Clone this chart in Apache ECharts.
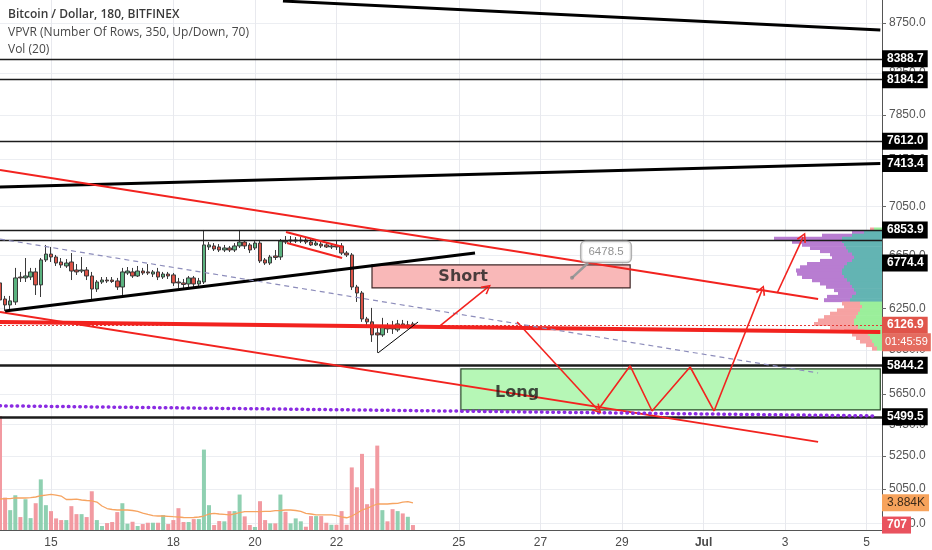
<!DOCTYPE html>
<html><head><meta charset="utf-8">
<script src="https://cdn.jsdelivr.net/npm/echarts@6/dist/echarts.min.js"></script>
<style>html,body{margin:0;padding:0;background:#fff}#c{width:932px;height:550px}</style>
</head><body><div id="c"></div>
<script>
// ---------------- DATA ----------------
const startTime = '2018-06-13 18:00';   // first 3h slot
const slotCount = 174;                  // slots shown on the time scale (incl. future)
const tickDates  = ['2018-06-15 00:00','2018-06-18 00:00','2018-06-20 00:00','2018-06-22 00:00','2018-06-25 00:00','2018-06-27 00:00','2018-06-29 00:00','2018-07-01 00:00','2018-07-03 00:00','2018-07-05 00:00'];
const tickLabels = ['15','18','20','22','25','27','29','Jul','3','5'];
const yTicks = [4850,5050,5250,5450,5650,5950,6250,6650,7050,7450,7850,8250,8750];

const opens = [6440,6319,6275,6297,6485,6478,6485,6524,6425,6617, 6663,6640,6601,6570,6601,6539,6531,6539,6493,6394,
  6447,6462,6462,6455,6409,6516,6524,6493,6531,6524, 6508,6524,6485,6508,6501,6447,6440,6432,6478,6432,
  6447,6719,6727,6719,6695,6711,6695,6727,6758,6735, 6711,6750,6617,6593,6648,6640,6766,6766,6766,6766,
  6774,6758,6735,6742,6735,6719,6727,6727,6671,6656, 6409,6364,6172,6151,6071,6057,6122,6122,6093,6136, 6114,6136];
const closes = [6312,6275,6305,6478,6478,6493,6524,6425,6617,6663, 6640,6593,6578,6593,6531,6524,6539,6493,6394,6447,
  6462,6455,6451,6409,6524,6531,6493,6531,6516,6516, 6524,6485,6508,6493,6440,6440,6428,6478,6432,6455,
  6735,6735,6703,6695,6711,6695,6727,6758,6727,6695, 6750,6609,6593,6640,6636,6766,6758,6774,6774,6774,
  6758,6735,6750,6727,6719,6727,6719,6671,6656,6409, 6364,6172,6151,6057,6057,6122,6100,6100,6136,6122, 6129,6126.9];
const lows = [6275,6231,6245,6275,6447,6447,6462,6349,6334,6601, 6601,6570,6555,6555,6462,6501,6516,6462,6319,6372,
  6432,6440,6440,6387,6349,6501,6478,6485,6501,6501, 6485,6462,6470,6470,6417,6402,6402,6402,6402,6402,
  6432,6695,6687,6679,6679,6679,6679,6711,6703,6671, 6695,6593,6578,6578,6617,6617,6742,6750,6750,6750,
  6742,6727,6727,6711,6711,6703,6695,6656,6640,6387, 6297,6151,6122,6007,5930,6043,6071,6064,6079,6107, 6100,6114];
const highs = [6462,6342,6342,6555,6524,6632,6555,6555,6632,6735, 6719,6656,6632,6624,6671,6585,6640,6562,6524,6462,
  6485,6485,6485,6478,6555,6562,6555,6570,6555,6585, 6539,6555,6524,6524,6516,6478,6470,6493,6493,6478,
  6855,6758,6750,6742,6735,6727,6750,6855,6774,6750, 6766,6766,6632,6656,6695,6782,6806,6806,6798,6798,
  6790,6782,6774,6758,6758,6750,6766,6750,6687,6671, 6425,6379,6187,6253,6107,6180,6143,6158,6165,6165, 6158,6151];
const volumes = [16300,4630,2840,4970,1850,4400,1700,3830,7240,3550, 2700,1660,1420,1420,3410,2270,2270,1850,5540,1420,
  570,990,1140,2560,3830,900,1180,570,850,1040, 1040,1040,2130,850,1420,3120,1140,1140,1560,1560,
  11500,3550,710,1280,1240,2700,2700,5070,1950,710, 430,4120,1420,950,950,5070,2600,950,1660,1240,
  470,1990,1990,1990,1040,750,750,2700,750,8950, 6110,10890,3690,5960,12070,2840,1240,2980,2700,2370, 1890,707];
const volumeMA20 = [4430,4500,4500,4580,4580,4580,4620,4720,4900,5000, 5100,5000,4860,4360,4360,4430,4290,4220,4180,4000,
  3430,3070,2930,2860,2860,2860,2790,2650,2430,2220, 2070,2000,2000,1960,1900,1860,1790,1760,1790,1860,
  2000,2290,2390,2290,2220,2150,2290,2500,2620,2620, 2620,2620,2670,2650,2760,2790,2860,2860,2790,2650,
  2390,2290,2150,2150,2150,2150,2070,1860,1750,2000, 2390,2860,3100,3430,3720,3720,3720,3790,3820,4000, 4050,3884];
const countdown = '01:45:59';

// horizontal levels drawn on the chart
const levels = [8388.7, 8184.2, 7612.0, 6853.9, 6774.4, 5844.2, 5499.5];
const labelOnlyLevels = [7413.4];

// VPVR rows (row low price, 25 USD rows), up / down volume (relative)
const vpRowLow = [6850,6825,6800,6775,6750,6725,6700,6675,6650,6625,6600,6575,6550,6525,6500,6475,6450,6425,6400,6375,6350,6325,6300,6275,6250,6225,6200,6175,6150,6125,6100,6075,6050,6025,6000,5975,5950];
const vpRowSize = 25;
const vpUp   = [8,18,30,40,40,38,36,34,30,28,30,35,38,40,40,38,35,32,30,28,26,30,32,22,20,22,24,26,28,28,24,18,14,12,10,8,5];
const vpDown = [4,12,30,68,50,42,36,28,22,22,32,40,44,46,45,42,35,30,26,20,18,25,26,18,18,23,28,32,36,40,28,20,16,14,12,8,5];
const valueArea = [6300, 6850];

// drawings [time, price]
const topResistance  = [['2018-06-20 16:30', 8980], ['2018-07-05 08:00', 8678]];
const longResistance = [['2018-06-13 18:00', 7212], ['2018-07-05 08:00', 7413.4]];
const channelUpper   = [['2018-06-13 18:00', 7357], ['2018-07-03 19:24', 6319]];
const channelLower   = [['2018-06-13 18:00', 6223], ['2018-07-03 19:24', 5339]];
const supportRed     = [['2018-06-13 18:00', 6150], ['2018-07-05 08:00', 6078]];
const wedgeSupport   = [['2018-06-13 21:00', 6231], ['2018-06-25 09:30', 6671]];
const dashedTrend    = [['2018-06-13 18:00', 6782], ['2018-07-03 19:24', 5791]];
const flagUpper      = [['2018-06-20 18:18', 6839], ['2018-06-22 03:54', 6719]];
const flagLower      = [['2018-06-20 18:54', 6750], ['2018-06-22 03:18', 6632]];
const triangleLine   = [['2018-06-23 00:30', 5930], ['2018-06-24 00:00', 6150]];
const dottedSupport  = [['2018-06-13 18:00', 5571], ['2018-07-05 05:00', 5505]];
const arrowShortUp   = [['2018-06-24 12:54', 6122], ['2018-06-25 16:36', 6402]];
const arrowDown      = [['2018-06-26 10:18', 6150], ['2018-06-28 09:54', 5544]];
const zigzag         = [['2018-06-28 09:54', 5544], ['2018-06-29 04:48', 5840], ['2018-06-29 17:42', 5537], ['2018-06-30 16:06', 5832], ['2018-07-01 06:12', 5537]];
const arrowBreakout  = [['2018-07-01 06:12', 5537], ['2018-07-02 10:24', 6387]];
const arrowTarget    = [['2018-07-02 19:18', 6364], ['2018-07-03 10:36', 6798]];
const boxNames  = ['Short', 'Long'];
const boxStart  = ['2018-06-22 20:54', '2018-06-25 01:12'];
const boxEnd    = ['2018-06-29 04:48', '2018-07-05 08:00'];
const boxTop    = [6578, 5819];
const boxBottom = [6402, 5544];
const boxTextAt = [['2018-06-25 02:30', 6485], ['2018-06-26 10:18', 5657]];
const calloutPoint  = ['2018-06-27 18:36', 6478.5];
const calloutCorner = ['2018-06-28 04:00', 6593];

// ---------------- BUILD ----------------
const FONT = '"Liberation Sans", Arial, sans-serif';
const RED = '#f2231f';
const HIDDEN_LINE = {color:'rgba(0,0,0,0)', width:1, type:'solid'};
function T(s){ const m = s.match(/(\d+)-(\d+)-(\d+) (\d+):(\d+)/); return Date.UTC(+m[1], m[2]-1, +m[3], +m[4], +m[5]); }
function fmt(ms){ const d = new Date(ms); const p = n => String(n).padStart(2,'0');
  return d.getUTCFullYear()+'-'+p(d.getUTCMonth()+1)+'-'+p(d.getUTCDate())+' '+p(d.getUTCHours())+':'+p(d.getUTCMinutes()); }
const slotMs = 3*3600*1000;
const t0 = T(startTime), tMax = t0 + (slotCount-1)*slotMs;
const categories = [];
for (let i = 0; i < slotCount; i++) categories.push(fmt(t0 + i*slotMs));
const tickMap = {}; tickDates.forEach((d,i) => tickMap[d] = tickLabels[i]);
const showTick = (i, v) => tickMap[v] !== undefined;

const candleData = opens.map((o,i) => [o, closes[i], lows[i], highs[i]]);
const volData = volumes.map((v,i) => ({value: v, itemStyle: {color: closes[i] >= opens[i] ? '#8fd0b1' : '#f29aa1'}}));
const pts = arr => arr.map(([t,p]) => [T(t), p]);
const lastPrice = closes[closes.length-1];
const lastMA = volumeMA20[volumeMA20.length-1];
const lastVol = volumes[volumes.length-1];

function lineSeries(data, style){
  return {type:'line', xAxisIndex:1, yAxisIndex:0, data: pts(data), symbol:'none', silent:true, z:6,
    lineStyle: Object.assign({color: RED, width: 2}, style), animation:false};
}
const chevron = 'path://M5,0 L10,9 L8.6,10 L5,3 L1.4,10 L0,9 Z';

const markLineData = levels.map(v => ({
  yAxis: v,
  lineStyle: {color: '#1c1c1c', width: (v === 5844.2 || v === 5499.5) ? 2.5 : 1.3, type:'solid'},
  label: v === 6774.4 ? {offset:[0,23]} : {}
}));
labelOnlyLevels.forEach(v => markLineData.push({yAxis: v, lineStyle: HIDDEN_LINE}));
markLineData.push({yAxis: lastPrice, lineStyle:{color:'#e53935', width:1, type:[2,2]}, label:{backgroundColor:'#e0544a'}});
markLineData.push({yAxis: lastPrice, lineStyle: HIDDEN_LINE,
  label:{formatter: countdown, backgroundColor:'#e46c60', offset:[0,17], fontSize:11, fontWeight:'normal', padding:[3,3,2,3]}});

const option = {
  animation: false,
  backgroundColor: '#ffffff',
  grid: {left: 0, right: 50, top: 0, bottom: 20},
  xAxis: [
    {type:'category', data: categories, boundaryGap:false,
      axisLine:{lineStyle:{color:'#555', width:1}}, axisTick:{show:false},
      axisLabel:{interval: showTick, formatter: v => tickMap[v] === 'Jul' ? '{b|Jul}' : (tickMap[v] || ''),
        color:'#4a4a4a', fontSize:12, margin:7, fontFamily: FONT, rich:{b:{fontWeight:'bold', fontSize:12, color:'#4a4a4a', fontFamily: FONT}}},
      splitLine:{show:true, interval: showTick, lineStyle:{color:'#e8e9ee', width:1}}},
    {type:'time', min: t0, max: tMax, show:false},
    {type:'value', min:0, max:882, inverse:true, show:false}
  ],
  yAxis: [
    {type:'log', logBase:10, min:4812, max:8991, position:'right',
      axisLine:{show:true, lineStyle:{color:'#555'}},
      axisTick:{show:true, length:4, customValues: yTicks, lineStyle:{color:'#666'}},
      axisLabel:{customValues: yTicks, formatter: v => Number(v).toFixed(1), color:'#555', fontSize:12, margin:7, fontFamily: FONT},
      splitLine:{show:true, lineStyle:{color:'#eceef2'}}},
    {type:'value', min:0, max:75800, show:false}
  ],
  graphic: [
    {type:'text', left:8, top:9, z:100, style:{text:'Bitcoin / Dollar, 180, BITFINEX', font:'600 12px "Open Sans", sans-serif', fill:'#3a3a3a'}},
    {type:'text', left:8, top:27, z:100, style:{text:'VPVR (Number Of Rows, 350, Up/Down, 70)', font:'12px "Open Sans", sans-serif', fill:'#484848'}},
    {type:'text', left:8, top:44, z:100, style:{text:'Vol (20)', font:'12px "Open Sans", sans-serif', fill:'#484848'}}
  ],
  series: [
    // Volume profile (VPVR)
    {type:'custom', xAxisIndex:2, yAxisIndex:0, silent:true, z:1,
      data: vpRowLow.map((lo,i) => [lo, lo + vpRowSize, vpUp[i], vpDown[i]]),
      encode:{x:2, y:[0,1]},
      renderItem: (params, api) => {
        const lo = api.value(0), hi = api.value(1), up = api.value(2), dn = api.value(3);
        const a = api.coord([0, hi]), b = api.coord([up, lo]), c = api.coord([up + dn, lo]);
        const inVA = lo >= valueArea[0] && hi <= valueArea[1];
        const h = b[1] - a[1] + 0.6;
        return {type:'group', children:[
          {type:'rect', shape:{x:b[0], y:a[1], width:a[0]-b[0], height:h}, style:{fill: inVA ? '#63b4b3' : '#9bef9b'}},
          {type:'rect', shape:{x:c[0], y:a[1], width:b[0]-c[0], height:h}, style:{fill: inVA ? '#b87dd1' : '#f6a2a2'}}
        ]};
      }},
    // volume
    {type:'bar', xAxisIndex:0, yAxisIndex:1, data: volData, barWidth:4, z:2, silent:true,
      markLine:{symbol:['none','none'], silent:true, animation:false,
        label:{position:'end', distance:0, padding:[2,4,2,5], fontSize:12, fontFamily: FONT, lineHeight:13},
        data:[
          {yAxis: lastMA, lineStyle: HIDDEN_LINE, label:{formatter: (lastMA/1000).toFixed(3)+'K', backgroundColor:'#f7a35c', color:'#3b2a1a'}},
          {yAxis: lastVol, lineStyle: HIDDEN_LINE, label:{formatter: String(lastVol), backgroundColor:'#e9525e', color:'#fff', fontWeight:'bold'}}
        ]}},
    {type:'line', xAxisIndex:0, yAxisIndex:1, data: volumeMA20, symbol:'none', z:3, silent:true,
      lineStyle:{color:'#f6a461', width:1.3}},
    // boxes
    {type:'custom', xAxisIndex:1, yAxisIndex:0, silent:true, z:3,
      data: boxNames.map((n,i) => [T(boxStart[i]), T(boxEnd[i]), boxTop[i], boxBottom[i]]),
      encode:{x:[0,1], y:[2,3]},
      renderItem: (params, api) => {
        const a = api.coord([api.value(0), api.value(2)]), b = api.coord([api.value(1), api.value(3)]);
        const fills = ['#f9b8b8', '#b6f7b6'], strokes = ['#3f2727', '#2a4a2a'];
        return {type:'rect', shape:{x:a[0], y:a[1], width:b[0]-a[0], height:b[1]-a[1]},
          style:{fill: fills[params.dataIndex], stroke: strokes[params.dataIndex], lineWidth:1.2}};
      }},
    // candles
    {type:'candlestick', xAxisIndex:0, yAxisIndex:0, data: candleData, barWidth:4, z:4,
      itemStyle:{color:'#5bb27f', color0:'#dc5246', borderColor:'#3a3a3a', borderColor0:'#3a3a3a', borderWidth:1},
      markLine:{symbol:['none','none'], silent:true, animation:false, precision:1,
        label:{position:'end', distance:0, formatter: p => Number(p.value).toFixed(1), color:'#fff', backgroundColor:'#000',
          padding:[2,4,2,5], fontSize:12, fontWeight:'bold', fontFamily: FONT, lineHeight:13},
        data: markLineData}},
    // drawings
    lineSeries(topResistance, {color:'#000', width:3}),
    lineSeries(longResistance, {color:'#000', width:3}),
    lineSeries(channelUpper, {color: RED, width:2}),
    lineSeries(channelLower, {color: RED, width:2}),
    lineSeries(supportRed, {color: RED, width:4}),
    lineSeries(wedgeSupport, {color:'#000', width:3}),
    lineSeries(dashedTrend, {color:'#8d8dbb', width:1.2, type:[5,4]}),
    lineSeries(flagUpper, {color: RED, width:2}),
    lineSeries(flagLower, {color: RED, width:2}),
    lineSeries(triangleLine, {color:'#000', width:1}),
    lineSeries(dottedSupport, {color:'#8a2be2', width:3.5, type:[0.5,5.2], cap:'round'}),
    lineSeries(zigzag, {color: RED, width:1.6}),
    {type:'lines', coordinateSystem:'cartesian2d', xAxisIndex:1, yAxisIndex:0, silent:true, z:7,
      symbol:['none', chevron], symbolSize:[10,10], polyline:false,
      lineStyle:{color: RED, width:1.6, opacity:1, curveness:0},
      data: [arrowShortUp, arrowDown, arrowBreakout, arrowTarget].map(s => ({coords: pts(s)}))},
    // callout pointer
    lineSeries([calloutPoint, calloutCorner], {color:'#9a9a9a', width:2.5}),
    {type:'scatter', xAxisIndex:1, yAxisIndex:0, silent:true, z:8, symbolSize:4,
      itemStyle:{color:'#8a8a8a'},
      data:[{name: String(calloutPoint[1]), value:[T(calloutPoint[0]), calloutPoint[1]]}],
      label:{show:true, position:'inside', offset:[34,-26], formatter:'{b}', color:'#777', fontSize:11.5, fontFamily: FONT,
        backgroundColor:'#fff', borderColor:'#9c9c9c', borderWidth:1.5, borderRadius:4, padding:[4,7]}},
    // box texts
    {type:'scatter', xAxisIndex:1, yAxisIndex:0, silent:true, z:8, symbolSize:0,
      data: boxNames.map((n,i) => ({name:n, value:[T(boxTextAt[i][0]), boxTextAt[i][1]]})),
      label:{show:true, position:'inside', formatter:'{b}', color:'#1d1d1d', fontSize:16, fontWeight:'bold', fontFamily:'"DejaVu Sans", sans-serif'}}
  ]
};
const chart = echarts.init(document.getElementById('c'));
chart.setOption(option);
</script>
</body></html>
